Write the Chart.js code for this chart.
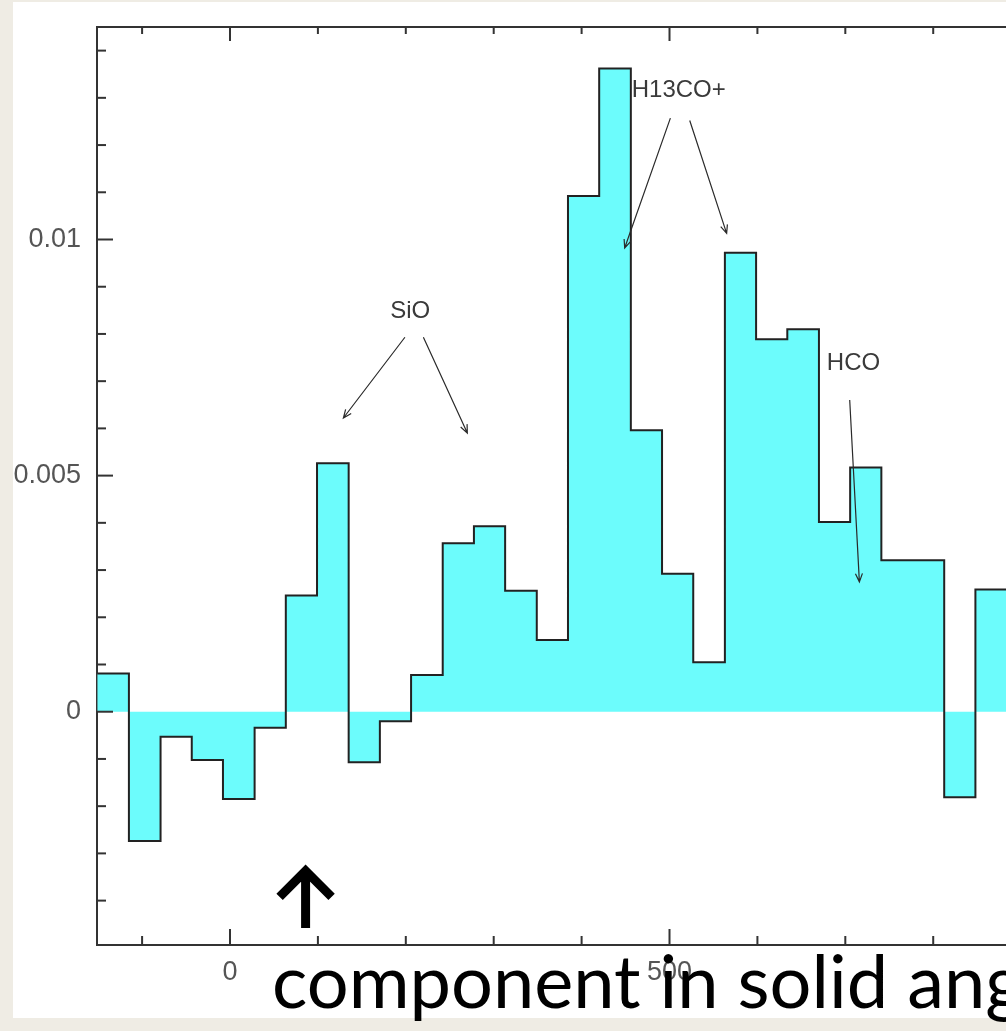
<!DOCTYPE html>
<html>
<head>
<meta charset="utf-8">
<script src="https://cdn.jsdelivr.net/npm/chart.js@4.4.0/dist/chart.umd.min.js"></script>
<style>
  html, body { margin: 0; padding: 0; width: 1006px; height: 1031px; overflow: hidden; background: #efece4; }
  #panel { position: absolute; left: 13px; top: 2px; width: 993px; height: 1016px; background: #fff; overflow: hidden; }
  #wrap { position: absolute; left: -13px; top: -2px; width: 1006px; height: 1031px; }
  #caption { position: absolute; left: 272px; top: 943px; font-family: Lato, "Open Sans", sans-serif; font-size: 74px; line-height: 74px; white-space: nowrap; color: #000; }
</style>
</head>
<body>
<div id="panel"><div id="wrap"><canvas id="spectrum"></canvas></div></div>
<div id="caption">component in solid ang</div>
<script>
// channel centres (km/s) and flux per channel
const velocity = [-133, -97, -61, -26, 10, 46, 81, 117, 153, 188, 224, 260, 295, 331, 367,
                  402, 438, 474, 509, 545, 581, 616, 652, 688, 723, 759, 795, 830, 866, 902];
const flux = [0.00081, -0.00274, -0.00053, -0.00102, -0.00185, -0.00034, 0.00246, 0.00526, -0.00107, -0.0002,
              0.00078, 0.00357, 0.00393, 0.00256, 0.00152, 0.01092, 0.01362, 0.00596, 0.00292, 0.00105,
              0.00972, 0.00789, 0.0081, 0.00402, 0.00517, 0.00321, 0.00321, -0.00181, 0.00259, -0.00166];
const xLabelTicks = [0, 500];
const yLabelTicks = [0, 0.005, 0.01];

// line identifications: label, label anchor, arrows [from, to] in data units
const lineNames = ["SiO", "H13CO+", "HCO"];
const lineAnchor = [[205, 0.00848, "center"], [457, 0.01316, "left"], [679, 0.00738, "left"]];
const lineArrows = [
  [[199, 0.00793, 129, 0.00622], [220, 0.00793, 270, 0.0059]],
  [[501, 0.01257, 449, 0.00982], [523, 0.01252, 565, 0.01013]],
  [[705, 0.0066, 716, 0.00275]]
];

// histogram: one point per channel left edge, plus the last right edge
const edges = velocity.map((v, i) => i === 0 ? v - (velocity[1] - v) / 2 : (velocity[i - 1] + v) / 2);
const last = velocity.length - 1;
const steps = velocity.map((v, i) => ({ x: edges[i], y: flux[i] }));
steps.push({ x: velocity[last] + (velocity[last] - velocity[last - 1]) / 2, y: flux[last] });

const xMin = -151.3, xMax = 882.8;
const yMin = -0.00494, yMax = 0.0145;
const axisColor = "#333";
const labelFont = { family: "Liberation Sans", size: 27 };

function isIn(v, list) {
  return list.some(t => Math.abs(t - v) < 1e-9);
}

function arrow(ctx, x1, y1, x2, y2, head) {
  const ang = Math.atan2(y2 - y1, x2 - x1);
  ctx.beginPath();
  ctx.moveTo(x1, y1);
  ctx.lineTo(x2, y2);
  ctx.moveTo(x2 - head * Math.cos(ang - 0.4), y2 - head * Math.sin(ang - 0.4));
  ctx.lineTo(x2, y2);
  ctx.lineTo(x2 - head * Math.cos(ang + 0.4), y2 - head * Math.sin(ang + 0.4));
  ctx.stroke();
}

const annotate = {
  id: "annotate",
  afterDatasetsDraw(chart) {
    const { ctx, chartArea: a, scales: { x, y } } = chart;
    ctx.save();
    ctx.strokeStyle = axisColor;
    ctx.lineWidth = 2;
    // inward ticks, bottom and top
    for (let v = -100; v <= 800; v += 100) {
      const px = x.getPixelForValue(v);
      const major = v % 500 === 0;
      ctx.beginPath();
      ctx.moveTo(px, a.bottom);
      ctx.lineTo(px, a.bottom - (major ? 16 : 9));
      ctx.moveTo(px, a.top);
      ctx.lineTo(px, a.top + (major ? 14 : 7));
      ctx.stroke();
    }
    // inward ticks, left
    for (let k = -4; k <= 14; k++) {
      const py = y.getPixelForValue(k / 1000);
      ctx.beginPath();
      ctx.moveTo(a.left, py);
      ctx.lineTo(a.left + (k % 5 === 0 ? 16 : 9), py);
      ctx.stroke();
    }

    // line names and arrows
    ctx.fillStyle = "#3a3a3a";
    ctx.strokeStyle = "#2a2a2a";
    ctx.lineWidth = 1.2;
    ctx.font = "24px 'Liberation Sans'";
    ctx.textBaseline = "middle";
    lineNames.forEach((name, i) => {
      const [lx, ly, align] = lineAnchor[i];
      ctx.textAlign = align;
      ctx.fillText(name, x.getPixelForValue(lx), y.getPixelForValue(ly));
      lineArrows[i].forEach(([x1, y1, x2, y2]) => {
        arrow(ctx, x.getPixelForValue(x1), y.getPixelForValue(y1),
              x.getPixelForValue(x2), y.getPixelForValue(y2), 9);
      });
    });

    // big up arrow marking the component
    const ax = x.getPixelForValue(86);
    const tip = y.getPixelForValue(-0.00337);
    const foot = y.getPixelForValue(-0.00458);
    ctx.strokeStyle = "#000";
    ctx.lineWidth = 9;
    ctx.lineCap = "butt";
    ctx.lineJoin = "miter";
    ctx.beginPath();
    ctx.moveTo(ax, tip + 2);
    ctx.lineTo(ax, foot);
    ctx.moveTo(ax - 26, tip + 26);
    ctx.lineTo(ax, tip);
    ctx.lineTo(ax + 26, tip + 26);
    ctx.stroke();
    ctx.restore();
  }
};

new Chart(document.getElementById("spectrum"), {
  type: "line",
  data: {
    datasets: [{
      data: steps,
      stepped: "before",
      fill: "origin",
      backgroundColor: "rgb(108, 252, 252)",
      borderColor: "#222",
      borderWidth: 2,
      pointRadius: 0
    }]
  },
  options: {
    responsive: true,
    maintainAspectRatio: false,
    animation: false,
    layout: { padding: 0 },
    plugins: { legend: { display: false }, tooltip: { enabled: false } },
    scales: {
      x: {
        type: "linear", position: "bottom", min: xMin, max: xMax,
        grid: { display: false, drawTicks: false },
        border: { display: true, color: axisColor, width: 2 },
        ticks: {
          stepSize: 100, includeBounds: false, autoSkip: false, maxRotation: 0, padding: 11,
          color: "#555", font: labelFont,
          callback: v => isIn(v, xLabelTicks) ? String(v) : ""
        },
        afterFit: s => { s.height = 86; s.paddingLeft = 0; s.paddingRight = 0; }
      },
      xTop: {
        type: "linear", position: "top", min: xMin, max: xMax,
        grid: { display: false, drawTicks: false },
        border: { display: true, color: axisColor, width: 2 },
        ticks: { display: false },
        afterFit: s => { s.height = 27; s.paddingLeft = 0; s.paddingRight = 0; }
      },
      y: {
        min: yMin, max: yMax,
        grid: { display: false, drawTicks: false },
        border: { display: true, color: axisColor, width: 2 },
        ticks: {
          stepSize: 0.001, includeBounds: false, autoSkip: false, padding: 16,
          color: "#555", font: labelFont,
          callback: v => isIn(v, yLabelTicks) ? String(+v.toFixed(3)) : ""
        },
        afterFit: s => { s.width = 97; s.paddingTop = 0; s.paddingBottom = 0; }
      }
    }
  },
  plugins: [annotate]
});
</script>
</body>
</html>
